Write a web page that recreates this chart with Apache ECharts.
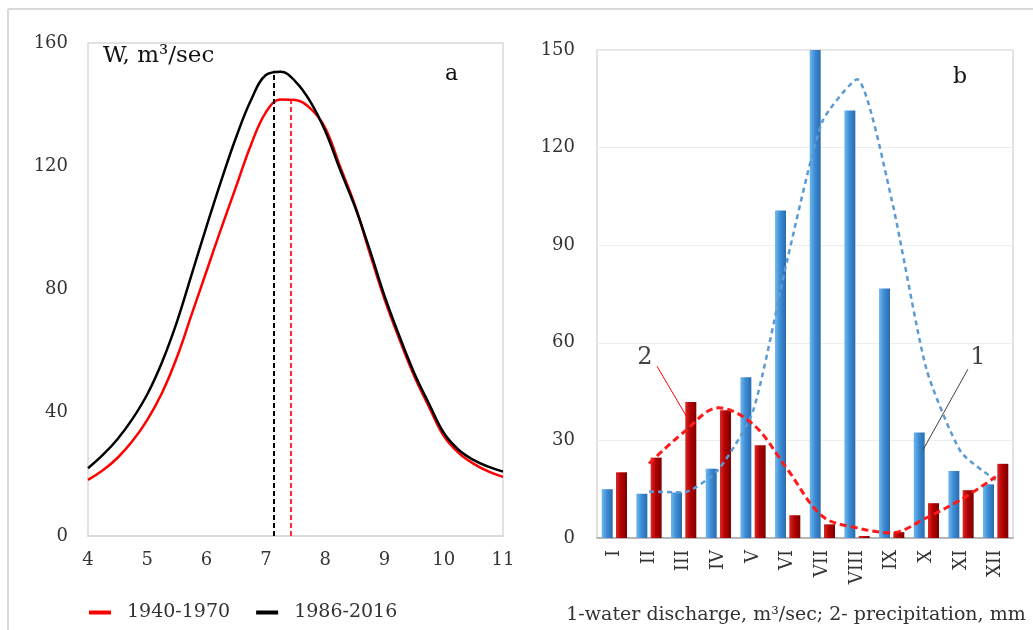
<!DOCTYPE html>
<html>
<head>
<meta charset="utf-8">
<script src="https://cdn.jsdelivr.net/npm/echarts@6/dist/echarts.min.js"></script>
<style>html,body{margin:0;padding:0;background:#fff}#c{width:1033px;height:630px}</style>
</head>
<body>
<div id="c"></div>
<script>
// ---- Panel a: hydrographs (month position vs W, m3/sec) ----
const monthPos = [4, 4.25, 4.5, 4.75, 5, 5.25, 5.5, 5.75, 6, 6.25, 6.5, 6.75, 7, 7.25, 7.5, 7.75, 8,
                  8.25, 8.5, 8.75, 9, 9.25, 9.5, 9.75, 10, 10.25, 10.5, 10.75, 11];
const wRed = [18.2, 21.3, 25.4, 30.8, 37.7, 46.5, 58, 72, 86, 100, 113.5, 127, 137.5, 141.7, 141.5, 138.8, 132.5,
              120, 107.5, 92, 77, 64, 52, 42, 32.5, 27, 23.5, 21, 19.2];
const wBlack = [22, 26.3, 31.5, 38, 46, 56.5, 69.5, 85, 100.5, 115.5, 129.5, 141.5, 149.6, 150.7, 147.5, 141, 131.5,
                119, 107, 93, 78, 65, 53, 43, 33.5, 28, 24.7, 22.5, 20.9];
const peakBlack = [7.14, 151];
const peakRed = [7.42, 141.4];
const seriesNames = ['1940-1970', '1986-2016'];

// ---- Panel b: monthly ----
const months = ['I', 'II', 'III', 'IV', 'V', 'VI', 'VII', 'VIII', 'IX', 'X', 'XI', 'XII'];
const discharge = [15, 13.6, 14, 21.3, 49.4, 100.7, 150, 131.4, 76.7, 32.4, 20.6, 16.5];
const precip = [20.2, 24.7, 41.8, 39.3, 28.5, 7.0, 4.2, 0.6, 1.8, 10.7, 14.7, 22.8];
const dischargeTrend = [null, 14.3, 14, 21, 39, 86, 128, 141, 104, 52, 26.4, 17.8];
const precipTrend = [null, 22.9, 32.5, 40, 35, 21, 6.7, 3.1, 1.6, 6.2, 11.8, 18.8];
// annotation leaders (month-position units: category i centred at i+0.5)
const leader2 = [[1.73, 52.8], [2.62, 36.7]];
const leader1 = [[10.70, 51.9], [9.40, 27.0]];
const label2 = [[1.38, 55.5]];
const label1 = [[10.99, 55.5]];

const FONT = 'DejaVu Serif';
const chart = echarts.init(document.getElementById('c'));

function zip(xs, ys) { return xs.map((x, i) => [x, ys[i]]); }

const blueGrad = new echarts.graphic.LinearGradient(0, 0, 1, 0, [
  {offset: 0, color: '#74b9ee'}, {offset: 0.45, color: '#3d8ed6'}, {offset: 1, color: '#2a6aae'}]);
const redGrad = new echarts.graphic.LinearGradient(0, 0, 1, 0, [
  {offset: 0, color: '#d62a2a'}, {offset: 0.45, color: '#b40000'}, {offset: 1, color: '#7c0000'}]);

chart.setOption({
  animation: false,
  textStyle: {fontFamily: FONT},
  grid: [
    {left: 88, top: 43, width: 415, height: 493, show: true, borderColor: '#d9d9d9', borderWidth: 1.5},
    {left: 597, top: 50, width: 416, height: 494, show: true, borderColor: '#d9d9d9', borderWidth: 1.5}
  ],
  xAxis: [
    {gridIndex: 0, type: 'value', min: 4, max: 11, interval: 1,
     axisLine: {lineStyle: {color: '#d9d9d9', width: 1.5}}, axisTick: {show: false}, splitLine: {show: false},
     axisLabel: {fontFamily: FONT, fontSize: 18, color: '#333', margin: 15}},
    {gridIndex: 1, type: 'category', data: months,
     axisLine: {lineStyle: {color: '#a6a6a6', width: 1.5}}, axisTick: {show: false},
     axisLabel: {fontFamily: FONT, fontSize: 18, color: '#333', rotate: 90, margin: 12},
     name: '1-water discharge, m³/sec; 2- precipitation, mm', nameLocation: 'middle', nameGap: 68,
     nameTextStyle: {fontFamily: FONT, fontSize: 19, color: '#333', padding: [0, 18, 0, 0]}},
    {gridIndex: 1, type: 'value', min: 0, max: 12, show: false}
  ],
  yAxis: [
    {gridIndex: 0, type: 'value', min: 0, max: 160, interval: 40,
     axisLine: {show: false}, axisTick: {show: false}, splitLine: {show: false},
     axisLabel: {fontFamily: FONT, fontSize: 18, color: '#333', margin: 20}},
    {gridIndex: 1, type: 'value', min: 0, max: 150, interval: 30,
     axisLine: {show: false}, axisTick: {show: false},
     splitLine: {lineStyle: {color: '#ededed', width: 1}},
     axisLabel: {fontFamily: FONT, fontSize: 18, color: '#333', margin: 22}}
  ],
  legend: {
    data: seriesNames, left: 84, top: 598, icon: 'rect', itemWidth: 22, itemHeight: 4, itemGap: 26,
    textStyle: {fontFamily: FONT, fontSize: 19, color: '#333', padding: [0, 0, 0, 11]}
  },
  graphic: [
    {type: 'line', shape: {x1: 8, y1: 9, x2: 1033, y2: 9}, style: {stroke: '#d9d9d9', lineWidth: 2}},
    {type: 'line', shape: {x1: 8, y1: 9, x2: 8, y2: 630}, style: {stroke: '#d9d9d9', lineWidth: 2}},
    {type: 'text', left: 103, top: 45, style: {text: 'W, m³/sec', font: '23px "DejaVu Serif"', fill: '#111'}},
    {type: 'text', left: 445, top: 63, style: {text: 'a', font: '22px "DejaVu Serif"', fill: '#111'}},
    {type: 'text', left: 953, top: 66, style: {text: 'b', font: '22px "DejaVu Serif"', fill: '#111'}}
  ],
  series: [
    {name: seriesNames[0], type: 'line', xAxisIndex: 0, yAxisIndex: 0, data: zip(monthPos, wRed),
     smooth: 0.4, showSymbol: false, lineStyle: {color: '#ff0000', width: 2.5}, itemStyle: {color: '#ff0000'},
     markLine: {silent: true, symbol: 'none', label: {show: false},
       lineStyle: {color: '#ff2a2a', type: [5, 3], width: 2},
       data: [[{coord: [peakRed[0], 0]}, {coord: [peakRed[0], peakRed[1]]}]]}},
    {name: seriesNames[1], type: 'line', xAxisIndex: 0, yAxisIndex: 0, data: zip(monthPos, wBlack),
     smooth: 0.4, showSymbol: false, lineStyle: {color: '#000000', width: 2.5}, itemStyle: {color: '#000000'},
     markLine: {silent: true, symbol: 'none', label: {show: false},
       lineStyle: {color: '#000000', type: [5, 3], width: 2},
       data: [[{coord: [peakBlack[0], 0]}, {coord: [peakBlack[0], peakBlack[1]]}]]}},
    {name: 'discharge', type: 'bar', xAxisIndex: 1, yAxisIndex: 1, data: discharge,
     barWidth: 11, barGap: '30%', itemStyle: {color: blueGrad}},
    {name: 'precip', type: 'bar', xAxisIndex: 1, yAxisIndex: 1, data: precip,
     barWidth: 11, itemStyle: {color: redGrad}},
    {name: 'dischargeTrend', type: 'line', xAxisIndex: 1, yAxisIndex: 1, data: dischargeTrend,
     smooth: 0.2, showSymbol: false, connectNulls: false, z: 5,
     lineStyle: {color: '#5b9bd5', width: 2.5, type: [5, 4]}},
    {name: 'precipTrend', type: 'line', xAxisIndex: 1, yAxisIndex: 1, data: precipTrend,
     smooth: 0.35, showSymbol: false, z: 6,
     lineStyle: {color: '#ff1a1a', width: 3, type: [7, 4]}},
    {name: 'leader2', type: 'line', xAxisIndex: 2, yAxisIndex: 1, data: leader2, showSymbol: false, z: 7,
     lineStyle: {color: '#ff0000', width: 1}},
    {name: 'leader1', type: 'line', xAxisIndex: 2, yAxisIndex: 1, data: leader1, showSymbol: false, z: 7,
     lineStyle: {color: '#404040', width: 1}},
    {name: 'label2', type: 'scatter', xAxisIndex: 2, yAxisIndex: 1, data: label2, symbolSize: 0,
     label: {show: true, position: 'inside', formatter: '2', fontFamily: FONT, fontSize: 24, color: '#111'}},
    {name: 'label1', type: 'scatter', xAxisIndex: 2, yAxisIndex: 1, data: label1, symbolSize: 0,
     label: {show: true, position: 'inside', formatter: '1', fontFamily: FONT, fontSize: 24, color: '#111'}}
  ]
});
</script>
</body>
</html>
